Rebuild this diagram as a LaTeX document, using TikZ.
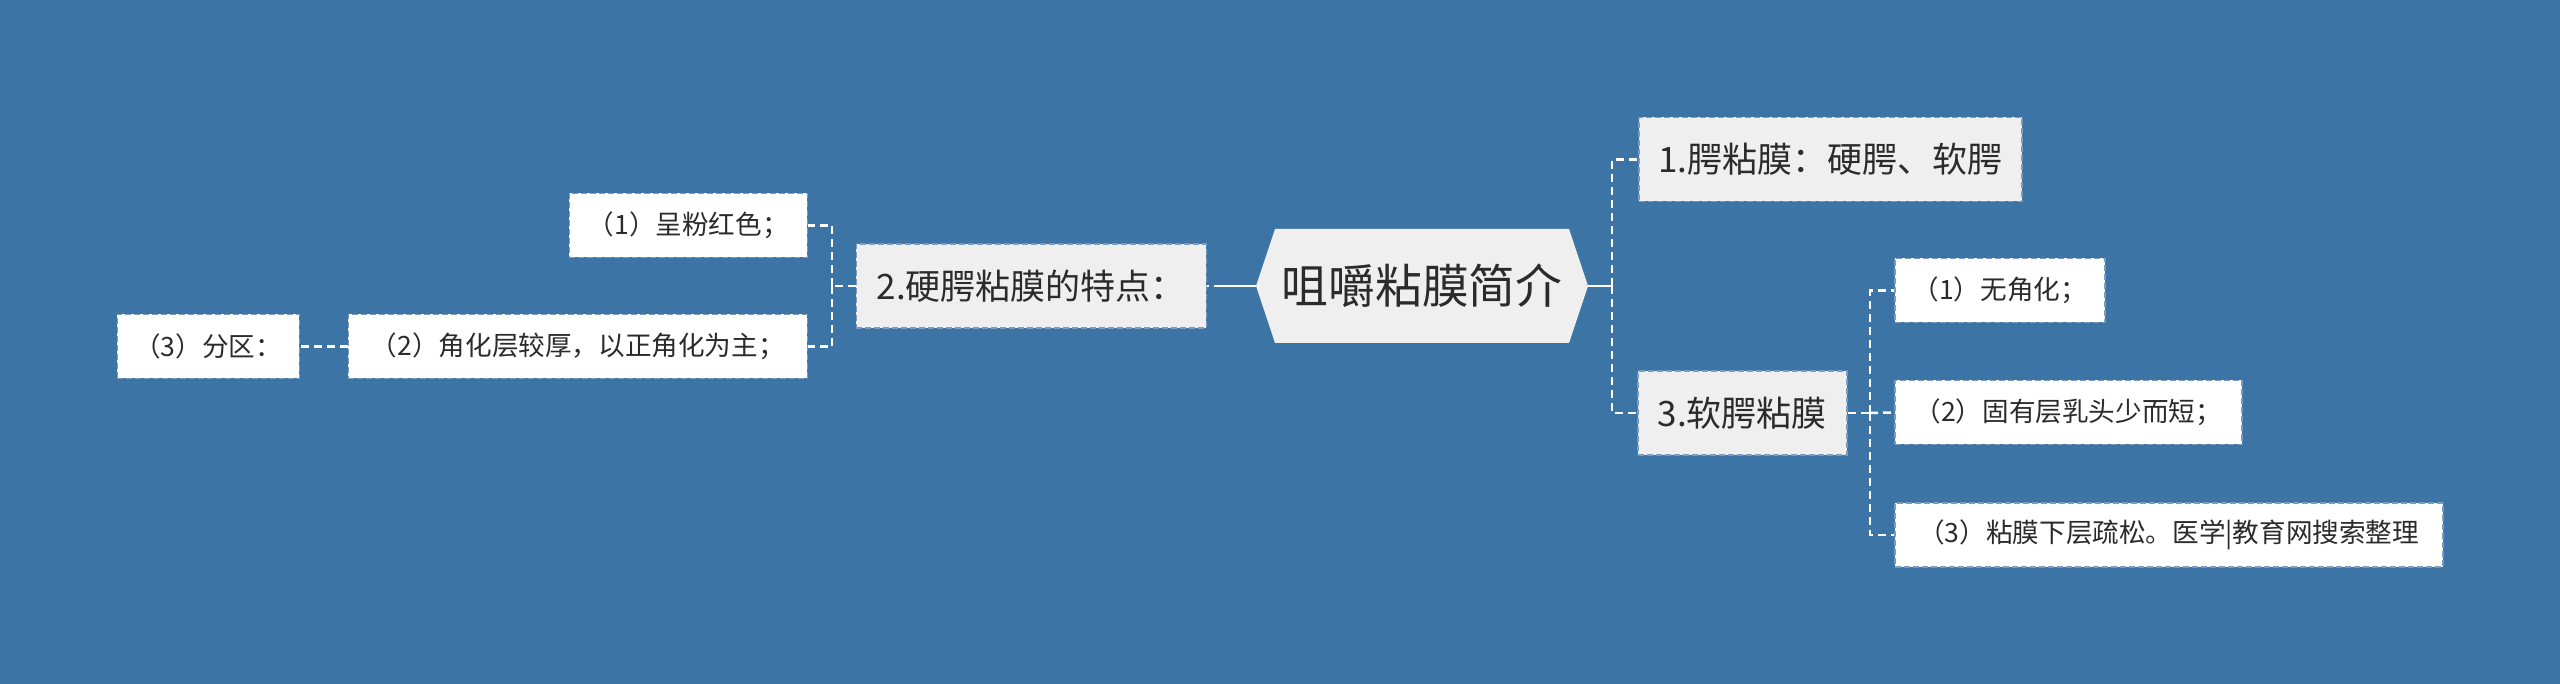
\documentclass[tikz,border=0pt]{standalone}
\usepackage{fontspec}
\setmainfont{Noto Sans CJK SC}
\usepackage{xcolor}
\usepackage{tikz}
\usetikzlibrary{positioning,calc}
\definecolor{bgblue}{HTML}{3D74A6}
\definecolor{boxgray}{HTML}{EFEFEF}
\definecolor{inkgray}{HTML}{2B2B2B}
\definecolor{edgeblue}{HTML}{7A9CC0}

\begin{document}
\begin{tikzpicture}[x=1pt, y=-1pt,
    topic/.style={draw=edgeblue, fill=boxgray, dash pattern=on 6pt off 3pt, line width=1.5pt,
        text=inkgray, font=\fontsize{35}{42}\selectfont, minimum height=84pt, inner sep=0pt},
    leaf/.style={topic, fill=white, minimum height=64pt, font=\fontsize{26.6}{32}\selectfont},
    link/.style={draw=white, line width=2.5pt, dash pattern=on 8pt off 5pt},
    rootlink/.style={draw=white, line width=2.5pt}]
    \fill[bgblue] (0,0) rectangle (2560,684);

    % Root
    \fill[boxgray] (1256,286) -- (1275,229) -- (1569,229) -- (1588,286) -- (1569,343) -- (1275,343) -- cycle;
    \node[text=inkgray, font=\fontsize{46.8}{56}\selectfont, minimum width=332pt, minimum height=114pt, inner sep=0pt] (root) at (1422,286) {咀嚼粘膜简介};

    % Right branch
    \node[topic, anchor=west, minimum width=383pt] (palate) at (1638,159.5) {1.腭粘膜：硬腭、软腭};
    \node[topic, anchor=west, minimum width=209pt] (soft) at (1637,413) {3.软腭粘膜};
    \node[leaf, anchor=west, minimum width=210pt] (nokerat) at (1894,290.5) {（1）无角化；};
    \node[leaf, anchor=west, minimum width=347pt] (papilla) at (1894,412.5) {（2）固有层乳头少而短；};
    \node[leaf, anchor=west, minimum width=548pt] (submuc) at (1894,535) {（3）粘膜下层疏松。医学|教育网搜索整理};

    % Left branch
    \node[topic, anchor=east, minimum width=350pt] (hard) at (1207,286) {2.硬腭粘膜的特点：};
    \node[leaf, anchor=east, minimum width=238pt] (pink) at (808,225.5) {（1）呈粉红色；};
    \node[leaf, anchor=east, minimum width=459pt] (keratin) at (808,346.5) {（2）角化层较厚，以正角化为主；};
    \node[leaf, anchor=east, minimum width=182pt] (zone) at (300,346.5) {（3）分区：};

    % Connectors
    \coordinate (rj) at (1612,286);
    \coordinate (lj) at (1222,286);
    \coordinate (hj) at (832,286);
    \coordinate (sj) at (1870,413);
    \draw[rootlink] (root.east) -- (rj);
    \draw[link] (rj) |- (palate.west);
    \draw[link] (rj) |- (soft.west);
    \draw[rootlink] (root.west) -- (lj);
    \draw[link] (lj) -- (hard.east);
    \draw[link] (hard.west) -- (hj);
    \draw[link] (hj) |- (pink.east);
    \draw[link] (hj) |- (keratin.east);
    \draw[link] (keratin.west) -- (zone.east);
    \draw[link] (soft.east) -- (sj);
    \draw[link] (sj) |- (nokerat.west);
    \draw[link] (sj) -- (papilla.west);
    \draw[link] (sj) |- (submuc.west);
\end{tikzpicture}
\end{document}
